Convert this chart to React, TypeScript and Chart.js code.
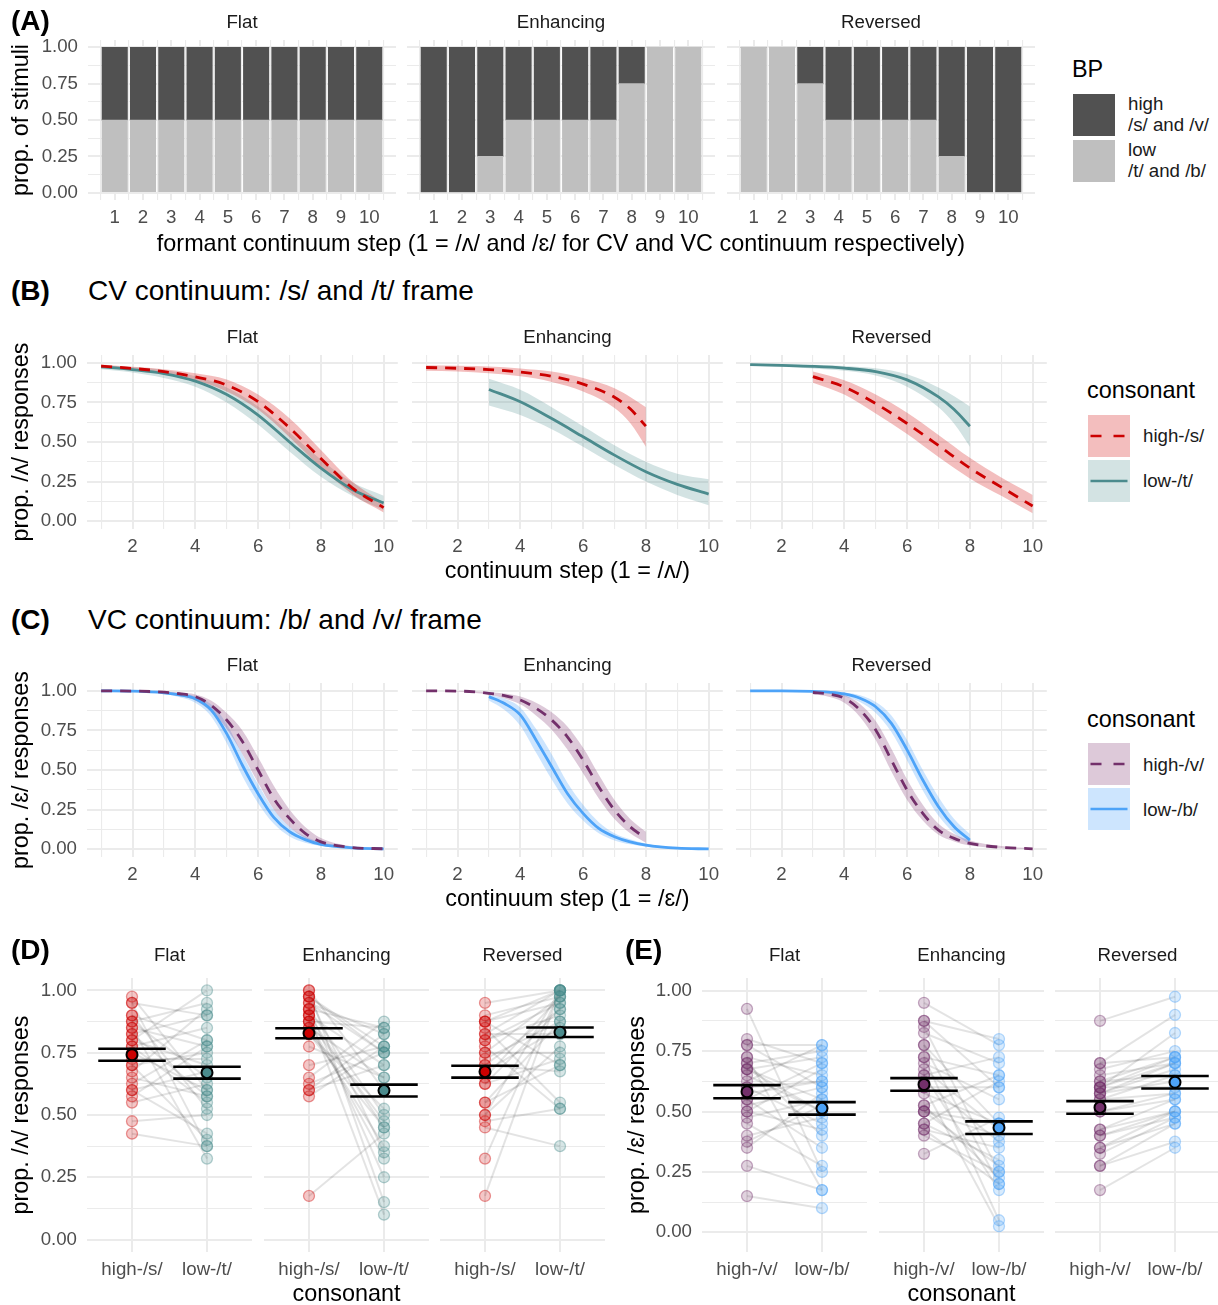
import React, { useEffect, useRef } from "react";
import { Chart, registerables } from "chart.js";

Chart.register(...registerables);

const FONT = "'Liberation Sans', Arial, 'DejaVu Sans', sans-serif";
const TICK_SIZE = 18.7;
const TITLE_SIZE = 23.4;
const GRID = "#EBEBEB";
const XAXIS_H = 60;

// ---------- tick values / labels ----------
const facetNames = ["Flat", "Enhancing", "Reversed"];
const yMajor = [0, 0.25, 0.5, 0.75, 1];
const yMinor = [0.125, 0.375, 0.625, 0.875];
const yLabels = ["0.00", "0.25", "0.50", "0.75", "1.00"];
const stepMajor = [1, 2, 3, 4, 5, 6, 7, 8, 9, 10];
const stepMinor = [0.5, 1.5, 2.5, 3.5, 4.5, 5.5, 6.5, 7.5, 8.5, 9.5, 10.5];
const contMajor = [2, 4, 6, 8, 10];
const contMinor = [1, 3, 5, 7, 9];
const catPos = [0, 1];
const cvCats = ["high-/s/", "low-/t/"];
const vcCats = ["high-/v/", "low-/b/"];

// ---------- Panel A: proportion of stimuli ----------
const steps = [1, 2, 3, 4, 5, 6, 7, 8, 9, 10];
const flatLow = [0.5, 0.5, 0.5, 0.5, 0.5, 0.5, 0.5, 0.5, 0.5, 0.5];
const flatHigh = [0.5, 0.5, 0.5, 0.5, 0.5, 0.5, 0.5, 0.5, 0.5, 0.5];
const enhLow = [0, 0, 0.25, 0.5, 0.5, 0.5, 0.5, 0.75, 1, 1];
const enhHigh = [1, 1, 0.75, 0.5, 0.5, 0.5, 0.5, 0.25, 0, 0];
const revLow = [1, 1, 0.75, 0.5, 0.5, 0.5, 0.5, 0.25, 0, 0];
const revHigh = [0, 0, 0.25, 0.5, 0.5, 0.5, 0.5, 0.75, 1, 1];

// ---------- Panel B: CV continuum curves ----------
const stepsAll = [1, 2, 3, 4, 5, 6, 7, 8, 9, 10];
const steps1to8 = [1, 2, 3, 4, 5, 6, 7, 7.5, 8];
const steps3to10 = [3, 4, 5, 6, 7, 8, 9, 10];

const cvFlatHighMid = [0.98, 0.965, 0.945, 0.912, 0.86, 0.755, 0.59, 0.395, 0.21, 0.085];
const cvFlatHighLo = [0.97, 0.955, 0.93, 0.89, 0.82, 0.705, 0.53, 0.34, 0.17, 0.055];
const cvFlatHighHi = [0.99, 0.975, 0.96, 0.935, 0.895, 0.8, 0.65, 0.45, 0.25, 0.115];
const cvFlatLowMid = [0.975, 0.958, 0.933, 0.885, 0.8, 0.67, 0.5, 0.335, 0.2, 0.115];
const cvFlatLowLo = [0.96, 0.94, 0.905, 0.85, 0.75, 0.61, 0.44, 0.28, 0.16, 0.07];
const cvFlatLowHi = [0.985, 0.972, 0.955, 0.915, 0.845, 0.725, 0.56, 0.39, 0.245, 0.16];

const cvEnhHighMid = [0.971, 0.966, 0.958, 0.942, 0.916, 0.866, 0.783, 0.71, 0.6];
const cvEnhHighLo = [0.95, 0.945, 0.935, 0.915, 0.88, 0.82, 0.715, 0.62, 0.47];
const cvEnhHighHi = [0.985, 0.982, 0.977, 0.965, 0.945, 0.905, 0.84, 0.785, 0.72];
const cvEnhLowMid = [0.832, 0.754, 0.648, 0.533, 0.417, 0.312, 0.232, 0.171];
const cvEnhLowLo = [0.73, 0.67, 0.58, 0.47, 0.355, 0.25, 0.165, 0.1];
const cvEnhLowHi = [0.9, 0.83, 0.72, 0.6, 0.48, 0.375, 0.3, 0.265];

const cvRevLowMid = [0.989, 0.984, 0.978, 0.967, 0.945, 0.893, 0.785, 0.705, 0.6];
const cvRevLowLo = [0.982, 0.975, 0.965, 0.95, 0.92, 0.85, 0.72, 0.615, 0.47];
const cvRevLowHi = [0.994, 0.991, 0.988, 0.981, 0.966, 0.928, 0.845, 0.79, 0.725];
const cvRevHighMid = [0.913, 0.848, 0.743, 0.617, 0.478, 0.335, 0.215, 0.095];
const cvRevHighLo = [0.875, 0.8, 0.68, 0.55, 0.405, 0.27, 0.16, 0.05];
const cvRevHighHi = [0.945, 0.89, 0.8, 0.685, 0.545, 0.4, 0.275, 0.165];

// ---------- Panel C: VC continuum curves ----------
const halfAll = [1, 2, 3, 3.5, 4, 4.5, 5, 5.5, 6, 6.5, 7, 7.5, 8, 9, 10];
const half1to8 = [1, 2, 3, 3.5, 4, 4.5, 5, 5.5, 6, 6.5, 7, 7.5, 8];
const half3to10 = [3, 3.5, 4, 4.5, 5, 5.5, 6, 6.5, 7, 7.5, 8, 9, 10];

const vcFlatHighMid = [1.0, 0.999, 0.992, 0.982, 0.964, 0.91, 0.816, 0.68, 0.5, 0.32, 0.194, 0.1, 0.046, 0.01, 0.002];
const vcFlatHighLo = [0.999, 0.997, 0.985, 0.968, 0.94, 0.87, 0.76, 0.6, 0.42, 0.25, 0.14, 0.07, 0.03, 0.006, 0.001];
const vcFlatHighHi = [1.0, 1.0, 0.996, 0.99, 0.978, 0.94, 0.86, 0.75, 0.58, 0.4, 0.25, 0.14, 0.07, 0.017, 0.004];
const vcFlatLowMid = [1.0, 0.998, 0.988, 0.975, 0.95, 0.88, 0.73, 0.53, 0.35, 0.2, 0.11, 0.06, 0.03, 0.008, 0.002];
const vcFlatLowLo = [0.999, 0.996, 0.98, 0.96, 0.925, 0.84, 0.67, 0.46, 0.29, 0.16, 0.08, 0.04, 0.02, 0.005, 0.001];
const vcFlatLowHi = [1.0, 0.999, 0.993, 0.985, 0.967, 0.915, 0.79, 0.6, 0.41, 0.25, 0.14, 0.08, 0.045, 0.012, 0.003];

const vcEnhHighMid = [1.0, 0.999, 0.985, 0.97, 0.943, 0.89, 0.816, 0.71, 0.563, 0.394, 0.247, 0.141, 0.068];
const vcEnhHighLo = [0.999, 0.996, 0.975, 0.952, 0.915, 0.845, 0.755, 0.63, 0.48, 0.32, 0.19, 0.1, 0.04];
const vcEnhHighHi = [1.0, 1.0, 0.992, 0.983, 0.964, 0.925, 0.865, 0.775, 0.64, 0.47, 0.31, 0.19, 0.11];
const vcEnhLowMid = [0.964, 0.92, 0.848, 0.69, 0.521, 0.352, 0.226, 0.131, 0.078, 0.045, 0.025, 0.006, 0.001];
const vcEnhLowLo = [0.94, 0.88, 0.78, 0.61, 0.44, 0.29, 0.18, 0.1, 0.055, 0.03, 0.015, 0.003, 0.0];
const vcEnhLowHi = [0.978, 0.95, 0.895, 0.76, 0.6, 0.42, 0.28, 0.17, 0.1, 0.062, 0.035, 0.01, 0.002];

const vcRevLowMid = [1.0, 1.0, 0.997, 0.992, 0.981, 0.954, 0.9, 0.795, 0.627, 0.437, 0.268, 0.141, 0.057];
const vcRevLowLo = [1.0, 0.999, 0.994, 0.985, 0.967, 0.93, 0.86, 0.74, 0.56, 0.37, 0.21, 0.1, 0.03];
const vcRevLowHi = [1.0, 1.0, 0.999, 0.996, 0.99, 0.972, 0.93, 0.845, 0.69, 0.5, 0.33, 0.19, 0.095];
const vcRevHighMid = [0.99, 0.98, 0.954, 0.88, 0.753, 0.563, 0.373, 0.226, 0.12, 0.068, 0.036, 0.011, 0.002];
const vcRevHighLo = [0.98, 0.963, 0.925, 0.835, 0.69, 0.49, 0.31, 0.18, 0.09, 0.048, 0.022, 0.006, 0.0];
const vcRevHighHi = [0.996, 0.99, 0.972, 0.918, 0.81, 0.635, 0.44, 0.28, 0.16, 0.095, 0.055, 0.02, 0.005];

// ---------- Panel D: participants, CV ----------
const dFlatHigh = [0.975, 0.95, 0.95, 0.9, 0.9, 0.875, 0.875, 0.85, 0.85, 0.825, 0.825, 0.8, 0.8, 0.775, 0.775, 0.75, 0.7, 0.7, 0.675, 0.65, 0.625, 0.6, 0.6, 0.575, 0.55, 0.475, 0.425, 0.725];
const dFlatLow = [0.6, 0.9, 0.375, 0.8, 0.525, 0.95, 0.65, 0.775, 0.325, 0.9, 0.575, 0.7, 1.0, 0.55, 0.85, 0.6, 0.75, 0.4, 0.925, 0.575, 0.8, 0.675, 0.425, 0.775, 0.625, 0.5, 0.375, 0.725];
const dEnhHigh = [1.0, 1.0, 0.975, 0.975, 0.95, 0.925, 0.925, 0.9, 0.9, 0.9, 0.875, 0.875, 0.875, 0.85, 0.85, 0.975, 0.825, 0.825, 0.925, 0.775, 0.7, 0.65, 0.625, 0.6, 0.6, 0.575, 0.95, 0.175];
const dEnhLow = [0.6, 0.15, 0.775, 0.35, 0.825, 0.5, 0.25, 0.7, 0.45, 0.1, 0.85, 0.475, 0.325, 0.65, 0.375, 0.75, 0.525, 0.45, 0.85, 0.65, 0.775, 0.875, 0.75, 0.825, 0.7, 0.775, 0.75, 0.425];
const dRevHigh = [0.95, 0.9, 0.875, 0.875, 0.85, 0.825, 0.825, 0.8, 0.775, 0.75, 0.75, 0.725, 0.7, 0.7, 0.675, 0.65, 0.625, 0.625, 0.55, 0.55, 0.5, 0.5, 0.475, 0.45, 0.325, 0.175, 0.8, 0.875];
const dRevLow = [1.0, 0.975, 0.7, 0.95, 0.55, 1.0, 0.825, 0.9, 0.525, 0.975, 0.75, 0.875, 0.925, 0.675, 0.85, 0.975, 0.725, 0.925, 0.875, 0.7, 0.775, 1.0, 0.525, 0.375, 1.0, 1.0, 0.95, 1.0];
const dFlatMean = [0.742, 0.67];
const dFlatSe = [0.024, 0.024];
const dEnhMean = [0.828, 0.598];
const dEnhSe = [0.02, 0.024];
const dRevMean = [0.674, 0.832];
const dRevSe = [0.024, 0.019];

// ---------- Panel E: participants, VC ----------
const eFlatHigh = [0.925, 0.8, 0.775, 0.775, 0.725, 0.725, 0.7, 0.675, 0.675, 0.65, 0.625, 0.6, 0.575, 0.55, 0.55, 0.525, 0.5, 0.5, 0.475, 0.45, 0.675, 0.4, 0.7, 0.375, 0.35, 0.275, 0.15, 0.6];
const eFlatLow = [0.25, 0.7, 0.775, 0.6, 0.65, 0.175, 0.75, 0.55, 0.725, 0.5, 0.775, 0.45, 0.625, 0.7, 0.35, 0.6, 0.425, 0.675, 0.55, 0.275, 0.5, 0.475, 0.4, 0.525, 0.575, 0.175, 0.1, 0.625];
const eEnhHigh = [0.95, 0.875, 0.875, 0.85, 0.825, 0.775, 0.775, 0.45, 0.725, 0.725, 0.7, 0.675, 0.65, 0.65, 0.625, 0.6, 0.6, 0.575, 0.525, 0.525, 0.5, 0.5, 0.45, 0.425, 0.425, 0.4, 0.325, 0.5];
const eEnhLow = [0.775, 0.8, 0.6, 0.25, 0.7, 0.45, 0.2, 0.3, 0.65, 0.05, 0.55, 0.425, 0.725, 0.175, 0.375, 0.6, 0.025, 0.45, 0.65, 0.225, 0.4, 0.275, 0.625, 0.2, 0.35, 0.25, 0.475, 0.45];
const eRevHigh = [0.875, 0.7, 0.7, 0.675, 0.65, 0.625, 0.625, 0.6, 0.6, 0.6, 0.6, 0.575, 0.575, 0.575, 0.55, 0.55, 0.5, 0.5, 0.425, 0.425, 0.4, 0.4, 0.35, 0.35, 0.325, 0.275, 0.275, 0.175];
const eRevLow = [0.975, 0.9, 0.725, 0.75, 0.7, 0.725, 0.65, 0.825, 0.7, 0.725, 0.6, 0.675, 0.7, 0.625, 0.65, 0.575, 0.55, 0.575, 0.5, 0.55, 0.5, 0.475, 0.5, 0.45, 0.475, 0.45, 0.375, 0.35];
const eFlatMean = [0.582, 0.513];
const eFlatSe = [0.027, 0.026];
const eEnhMean = [0.612, 0.433];
const eEnhSe = [0.026, 0.026];
const eRevMean = [0.517, 0.621];
const eRevSe = [0.026, 0.026];

// ---------- colours ----------
const DARK = "#515151";
const LIGHT = "#BFBFBF";
const RED = "#CC0000";
const RED_FILL = "rgba(215, 40, 40, 0.30)";
const TEAL = "#4B8B8D";
const TEAL_FILL = "rgba(79, 142, 145, 0.25)";
const PURPLE = "#73306B";
const PURPLE_FILL = "rgba(123, 45, 110, 0.26)";
const BLUE = "#4DA3F8";
const BLUE_FILL = "rgba(77, 163, 250, 0.28)";

function rgba(hex: string, a: number) {
  const n = parseInt(hex.slice(1), 16);
  return `rgba(${(n >> 16) & 255}, ${(n >> 8) & 255}, ${n & 255}, ${a})`;
}

const pts = (xs: number[], ys: number[]) => ys.map((y, i) => ({ x: xs[i], y }));

function curveSets(xs: number[], mid: number[], lo: number[], hi: number[], color: string, fill: string, dashed: boolean, base: number, lineOrder: number) {
  return [
    { data: pts(xs, lo), borderColor: "transparent", borderWidth: 0, pointRadius: 0, fill: false, order: 5, cubicInterpolationMode: "monotone" },
    { data: pts(xs, hi), borderColor: "transparent", borderWidth: 0, pointRadius: 0, fill: base, backgroundColor: fill, order: 5, cubicInterpolationMode: "monotone" },
    { data: pts(xs, mid), borderColor: color, borderWidth: 2.8, borderDash: dashed ? [11, 8] : [], pointRadius: 0, fill: false, order: lineOrder, cubicInterpolationMode: "monotone" },
  ];
}

function pairSets(high: number[], low: number[], means: number[], ses: number[], cHigh: string, cLow: string) {
  const sets: any[] = [];
  high.forEach((h, i) => {
    sets.push({ data: [{ x: catPos[0], y: h }, { x: catPos[1], y: low[i] }], borderColor: "rgba(0,0,0,0.11)", borderWidth: 2, pointRadius: 0, fill: false, order: 4 });
  });
  [high, low].forEach((vals, k) => {
    const c = k === 0 ? cHigh : cLow;
    sets.push({ data: vals.map((v) => ({ x: catPos[k], y: v })), showLine: false, pointRadius: 5.5, pointBackgroundColor: rgba(c, 0.22), pointBorderColor: rgba(c, 0.4), pointBorderWidth: 1.3, order: 3 });
  });
  catPos.forEach((p, k) => {
    const m = means[k];
    const s = ses[k];
    sets.push({ data: [{ x: p - 0.45, y: m + s }, { x: p + 0.45, y: m + s }], borderColor: "#000", borderWidth: 2.6, pointRadius: 0, fill: false, order: 1 });
    sets.push({ data: [{ x: p - 0.45, y: m - s }, { x: p + 0.45, y: m - s }], borderColor: "#000", borderWidth: 2.6, pointRadius: 0, fill: false, order: 1 });
    sets.push({ data: [{ x: p, y: m - s }, { x: p, y: m + s }], borderColor: "#000", borderWidth: 2, pointRadius: 0, fill: false, order: 1 });
  });
  sets.push({ data: catPos.map((p, k) => ({ x: p, y: means[k] })), showLine: false, pointRadius: 5.5, pointBackgroundColor: [cHigh, cLow], pointBorderColor: "#000", pointBorderWidth: 2, order: 0 });
  return sets;
}

function makeFacet(o: any) {
  const left = o.panelL - o.yAxisW;
  const top = o.panelT - o.stripH;
  const width = o.yAxisW + o.panelW;
  const height = o.stripH + o.panelH + XAXIS_H;
  const xTicks = [...o.xMinor, ...o.xMajor].sort((a: number, b: number) => a - b);
  const yTicks = [...yMinor, ...yMajor].sort((a, b) => a - b);
  const tickFont = { family: FONT, size: TICK_SIZE };
  const build = () => ({
    type: o.type,
    data: { datasets: o.datasets() },
    options: {
      responsive: false,
      maintainAspectRatio: false,
      animation: false,
      events: [],
      layout: { padding: 0, autoPadding: false },
      plugins: {
        legend: { display: false },
        tooltip: { enabled: false },
        title: {
          display: true,
          text: o.title,
          fullSize: false,
          align: "center",
          color: "#1A1A1A",
          font: { family: FONT, size: TICK_SIZE, weight: "normal", lineHeight: 1.2 },
          padding: { top: 0, bottom: o.stripH - TICK_SIZE * 1.2 },
        },
      },
      scales: {
        x: {
          type: "linear",
          min: o.xMin,
          max: o.xMax,
          bounds: "data",
          offset: false,
          stacked: !!o.stacked,
          afterBuildTicks: (s: any) => {
            s.ticks = xTicks.map((v: number) => ({ value: v }));
          },
          afterFit: (s: any) => {
            s.height = XAXIS_H;
          },
          grid: {
            color: GRID,
            lineWidth: (c: any) => (o.xMajor.includes(c.tick && c.tick.value) ? 2 : 1.1),
            drawTicks: false,
            offset: false,
          },
          border: { display: false },
          ticks: {
            autoSkip: false,
            maxRotation: 0,
            minRotation: 0,
            padding: 6.8,
            color: "#4D4D4D",
            font: tickFont,
            callback: (v: number) => {
              const i = o.xMajor.indexOf(v);
              return i >= 0 ? o.xLabels[i] : "";
            },
          },
          title: {
            display: !!o.xTitle,
            text: o.xTitle || "",
            color: "#000",
            font: { family: FONT, size: TITLE_SIZE },
            padding: { top: 0, bottom: 3 },
          },
        },
        y: {
          type: "linear",
          min: o.yMin,
          max: o.yMax,
          bounds: "data",
          stacked: !!o.stacked,
          afterBuildTicks: (s: any) => {
            s.ticks = yTicks.map((v) => ({ value: v }));
          },
          afterFit: (s: any) => {
            s.width = o.yAxisW;
          },
          grid: {
            color: GRID,
            lineWidth: (c: any) => (yMajor.includes(c.tick && c.tick.value) ? 2 : 1.1),
            drawTicks: false,
          },
          border: { display: false },
          ticks: {
            display: o.yAxisW > 0,
            autoSkip: false,
            padding: 10,
            color: "#4D4D4D",
            font: tickFont,
            callback: (v: number) => {
              const i = yMajor.indexOf(v);
              return i >= 0 ? yLabels[i] : "";
            },
          },
          title: {
            display: !!o.yTitle,
            text: o.yTitle || "",
            color: "#000",
            font: { family: FONT, size: TITLE_SIZE },
            padding: { top: 8, bottom: 0 },
          },
        },
      },
    },
  });
  return { left, top, width, height, build };
}

function ChartCanvas({ left, top, width, height, build }: any) {
  const ref = useRef<HTMLCanvasElement | null>(null);
  useEffect(() => {
    if (!ref.current) return;
    const chart = new Chart(ref.current, build() as any);
    return () => chart.destroy();
  }, []);
  return (
    <canvas
      ref={ref}
      width={width}
      height={height}
      style={{ position: "absolute", left, top, width, height, display: "block" }}
    />
  );
}

function Txt({ x, y, size, children, bold = false, color = "#000", center = false }: any) {
  return (
    <div
      style={{
        position: "absolute",
        left: x,
        top: y - size / 2,
        fontSize: size,
        lineHeight: `${size}px`,
        fontFamily: FONT,
        fontWeight: bold ? 700 : 400,
        color,
        whiteSpace: "nowrap",
        transform: center ? "translateX(-50%)" : undefined,
      }}
    >
      {children}
    </div>
  );
}

function KeyBox({ x, y, fill, line, dashed }: any) {
  return (
    <div style={{ position: "absolute", left: x, top: y, width: 42, height: 42, background: fill }}>
      {line ? (
        <svg width={42} height={42} style={{ position: "absolute", left: 0, top: 0 }}>
          <line x1={2.5} y1={21} x2={39.5} y2={21} stroke={line} strokeWidth={2.7} strokeDasharray={dashed ? "11 12" : undefined} />
        </svg>
      ) : null}
    </div>
  );
}

const A_XTITLE = "formant continuum step (1 = /ʌ/ and /ɛ/ for CV and VC continuum respectively)";

function buildFacets() {
  const out: any[] = [];
  // Row A
  const aL = [88, 407, 727];
  const aLows = [flatLow, enhLow, revLow];
  const aHighs = [flatHigh, enhHigh, revHigh];
  const aW = 308;
  const aXMin = 0.055;
  const aXMax = 10.945;
  const thick = (0.9 * aW) / (aXMax - aXMin);
  for (let k = 0; k < 3; k++) {
    out.push(
      makeFacet({
        type: "bar",
        stacked: true,
        panelL: aL[k], panelT: 40, panelW: aW, panelH: 160, stripH: 28,
        yAxisW: k === 0 ? aL[0] : 0,
        title: facetNames[k],
        xMin: aXMin, xMax: aXMax, xMajor: stepMajor, xMinor: stepMinor, xLabels: stepMajor.map(String),
        yMin: -0.05, yMax: 1.05,
        xTitle: "",
        yTitle: k === 0 ? "prop. of stimuli" : "",
        datasets: () => [
          { label: "low", data: pts(steps, aLows[k]), backgroundColor: LIGHT, borderWidth: 0, barThickness: thick },
          { label: "high", data: pts(steps, aHighs[k]), backgroundColor: DARK, borderWidth: 0, barThickness: thick },
        ],
      })
    );
  }
  // Rows B & C
  const bcL = [87, 412, 736];
  const cvSets = [
    () => [...curveSets(stepsAll, cvFlatHighMid, cvFlatHighLo, cvFlatHighHi, RED, RED_FILL, true, 0, 0), ...curveSets(stepsAll, cvFlatLowMid, cvFlatLowLo, cvFlatLowHi, TEAL, TEAL_FILL, false, 3, 1)],
    () => [...curveSets(steps1to8, cvEnhHighMid, cvEnhHighLo, cvEnhHighHi, RED, RED_FILL, true, 0, 0), ...curveSets(steps3to10, cvEnhLowMid, cvEnhLowLo, cvEnhLowHi, TEAL, TEAL_FILL, false, 3, 1)],
    () => [...curveSets(steps3to10, cvRevHighMid, cvRevHighLo, cvRevHighHi, RED, RED_FILL, true, 0, 0), ...curveSets(steps1to8, cvRevLowMid, cvRevLowLo, cvRevLowHi, TEAL, TEAL_FILL, false, 3, 1)],
  ];
  const vcSets = [
    () => [...curveSets(halfAll, vcFlatHighMid, vcFlatHighLo, vcFlatHighHi, PURPLE, PURPLE_FILL, true, 0, 0), ...curveSets(halfAll, vcFlatLowMid, vcFlatLowLo, vcFlatLowHi, BLUE, BLUE_FILL, false, 3, 1)],
    () => [...curveSets(half1to8, vcEnhHighMid, vcEnhHighLo, vcEnhHighHi, PURPLE, PURPLE_FILL, true, 0, 0), ...curveSets(half3to10, vcEnhLowMid, vcEnhLowLo, vcEnhLowHi, BLUE, BLUE_FILL, false, 3, 1)],
    () => [...curveSets(half3to10, vcRevHighMid, vcRevHighLo, vcRevHighHi, PURPLE, PURPLE_FILL, true, 0, 0), ...curveSets(half1to8, vcRevLowMid, vcRevLowLo, vcRevLowHi, BLUE, BLUE_FILL, false, 3, 1)],
  ];
  const rowsBC = [
    { top: 355, sets: cvSets, xTitle: "continuum step (1 = /ʌ/)", yTitle: "prop. /ʌ/ responses" },
    { top: 683, sets: vcSets, xTitle: "continuum step (1 = /ɛ/)", yTitle: "prop. /ɛ/ responses" },
  ];
  rowsBC.forEach((row) => {
    for (let k = 0; k < 3; k++) {
      out.push(
        makeFacet({
          type: "line",
          panelL: bcL[k], panelT: row.top, panelW: 314, panelH: 174, stripH: 28,
          yAxisW: k === 0 ? bcL[0] : 0,
          title: facetNames[k],
          xMin: 0.55, xMax: 10.45, xMajor: contMajor, xMinor: contMinor, xLabels: contMajor.map(String),
          yMin: -0.05, yMax: 1.05,
          xTitle: k === 1 ? row.xTitle : "",
          yTitle: k === 0 ? row.yTitle : "",
          datasets: row.sets[k],
        })
      );
    }
  });
  // Rows D & E
  const dL = [87, 264, 440];
  const eL = [702, 879, 1055];
  const dData = [
    () => pairSets(dFlatHigh, dFlatLow, dFlatMean, dFlatSe, RED, TEAL),
    () => pairSets(dEnhHigh, dEnhLow, dEnhMean, dEnhSe, RED, TEAL),
    () => pairSets(dRevHigh, dRevLow, dRevMean, dRevSe, RED, TEAL),
  ];
  const eData = [
    () => pairSets(eFlatHigh, eFlatLow, eFlatMean, eFlatSe, PURPLE, BLUE),
    () => pairSets(eEnhHigh, eEnhLow, eEnhMean, eEnhSe, PURPLE, BLUE),
    () => pairSets(eRevHigh, eRevLow, eRevMean, eRevSe, PURPLE, BLUE),
  ];
  for (let k = 0; k < 3; k++) {
    out.push(
      makeFacet({
        type: "line",
        panelL: dL[k], panelT: 978, panelW: 165, panelH: 274, stripH: 33,
        yAxisW: k === 0 ? dL[0] : 0,
        title: facetNames[k],
        xMin: -0.6, xMax: 1.6, xMajor: catPos, xMinor: [], xLabels: cvCats,
        yMin: -0.05, yMax: 1.05,
        xTitle: k === 1 ? "consonant" : "",
        yTitle: k === 0 ? "prop. /ʌ/ responses" : "",
        datasets: dData[k],
      })
    );
  }
  for (let k = 0; k < 3; k++) {
    out.push(
      makeFacet({
        type: "line",
        panelL: eL[k], panelT: 978, panelW: 165, panelH: 274, stripH: 33,
        yAxisW: k === 0 ? 86 : 0,
        title: facetNames[k],
        xMin: -0.6, xMax: 1.6, xMajor: catPos, xMinor: [], xLabels: vcCats,
        yMin: -0.0815, yMax: 1.0526,
        xTitle: k === 1 ? "consonant" : "",
        yTitle: k === 0 ? "prop. /ɛ/ responses" : "",
        datasets: eData[k],
      })
    );
  }
  return out;
}

const FACETS = buildFacets();

export default function App() {
  const LT = 18.7;
  const LTitle = 23.4;
  return (
    <div
      style={{
        position: "absolute",
        left: 0,
        top: 0,
        width: 1218,
        height: 1305,
        overflow: "hidden",
        background: "#fff",
        fontFamily: FONT,
      }}
    >
      {FACETS.map((f, i) => (
        <ChartCanvas key={i} {...f} />
      ))}

      {/* panel A x-axis title (spans all three facets) */}
      <Txt x={561} y={244} size={TITLE_SIZE} center>{A_XTITLE}</Txt>

      {/* panel tags and titles */}
      <Txt x={11} y={21} size={28} bold>(A)</Txt>
      <Txt x={11} y={291} size={28} bold>(B)</Txt>
      <Txt x={88} y={291} size={28}>CV continuum: /s/ and /t/ frame</Txt>
      <Txt x={11} y={620} size={28} bold>(C)</Txt>
      <Txt x={88} y={620} size={28}>VC continuum: /b/ and /v/ frame</Txt>
      <Txt x={11} y={950} size={28} bold>(D)</Txt>
      <Txt x={625} y={950} size={28} bold>(E)</Txt>

      {/* legend A */}
      <Txt x={1072} y={70} size={LTitle}>BP</Txt>
      <KeyBox x={1073} y={94} fill={DARK} />
      <KeyBox x={1073} y={140} fill={LIGHT} />
      <Txt x={1128} y={104.5} size={LT} color="#1A1A1A">high</Txt>
      <Txt x={1128} y={125.5} size={LT} color="#1A1A1A">/s/ and /v/</Txt>
      <Txt x={1128} y={150} size={LT} color="#1A1A1A">low</Txt>
      <Txt x={1128} y={171} size={LT} color="#1A1A1A">/t/ and /b/</Txt>

      {/* legend B */}
      <Txt x={1087} y={391} size={LTitle}>consonant</Txt>
      <KeyBox x={1088} y={415} fill={RED_FILL} line={RED} dashed />
      <KeyBox x={1088} y={460} fill={TEAL_FILL} line={TEAL} />
      <Txt x={1143} y={436} size={LT} color="#1A1A1A">high-/s/</Txt>
      <Txt x={1143} y={481} size={LT} color="#1A1A1A">low-/t/</Txt>

      {/* legend C */}
      <Txt x={1087} y={720} size={LTitle}>consonant</Txt>
      <KeyBox x={1088} y={743} fill={PURPLE_FILL} line={PURPLE} dashed />
      <KeyBox x={1088} y={788} fill={BLUE_FILL} line={BLUE} />
      <Txt x={1143} y={765} size={LT} color="#1A1A1A">high-/v/</Txt>
      <Txt x={1143} y={810} size={LT} color="#1A1A1A">low-/b/</Txt>
    </div>
  );
}
